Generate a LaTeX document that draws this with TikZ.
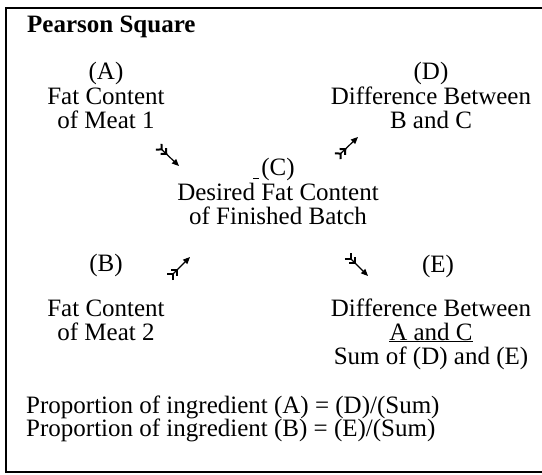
\documentclass[tikz,border=0pt]{standalone}
\usepackage{fontspec}
\setmainfont{Liberation Serif}
\usetikzlibrary{arrows.meta}
\begin{document}
\begin{tikzpicture}[x=1bp,y=-1bp,
  txt/.style={anchor=base,inner sep=0pt,font=\fontsize{25bp}{29bp}\selectfont},
  ltxt/.style={txt,anchor=base west},
  frame/.style={line width=1.8bp},
  fletched/.style={line width=1.2bp,
    {Straight Barb[reversed,length=4bp,width=8bp,line width=2bp]Straight Barb[reversed,length=4bp,width=8bp,line width=2bp]}-{Triangle[length=7bp,width=6bp]}},
  specktick/.style={line width=0.8bp}]
\useasboundingbox (0,0) rectangle (542,475);
\clip (0,0) rectangle (542,475);
\draw[frame] (560,8) -- (6,8) -- (6,472) -- (560,472);
% title
\node[ltxt,font=\fontsize{25bp}{29bp}\selectfont\bfseries] (title) at (27,33) {Pearson Square};
% A
\node[txt] (a1) at (106,80) {(A)};
\node[txt] (a2) at (106,105) {Fat Content};
\node[txt] (a3) at (106,129) {of Meat 1};
% D
\node[txt] (d1) at (431,80) {(D)};
\node[txt] (d2) at (431,105) {Difference Between};
\node[txt] (d3) at (431,129) {B and C};
% C
\node[txt] (c1) at (278,176) {(C)};
\node[txt] (c2) at (278,201) {Desired Fat Content};
\node[txt] (c3) at (278,225) {of Finished Batch};
\coordinate (m1) at (253,178);
\coordinate (m2) at (259,178);
\draw[specktick] (m1) -- (m2);
% B
\node[txt] (b1) at (106,271) {(B)};
\node[txt] (b2) at (106,316) {Fat Content};
\node[txt] (b3) at (106,340) {of Meat 2};
% E
\node[txt] (e1) at (438,272) {(E)};
\node[txt] (e2) at (431,316) {Difference Between};
\node[txt] (e3) at (431,340) {\underline{A and C}};
\node[txt] (e4) at (431,364) {Sum of (D) and (E)};
% proportions
\node[ltxt] (p1) at (26,413) {Proportion of ingredient (A) = (D)/(Sum)};
\node[ltxt] (p2) at (26,436) {Proportion of ingredient (B) = (E)/(Sum)};
% arrows
\coordinate (t1) at (158,146); \coordinate (h1) at (179,166);
\coordinate (t2) at (337,157); \coordinate (h2) at (358,137);
\coordinate (t3) at (169,278); \coordinate (h3) at (190,257);
\coordinate (t4) at (347,255); \coordinate (h4) at (368,276);
\draw[fletched] (t1) -- (h1);
\draw[fletched] (t2) -- (h2);
\draw[fletched] (t3) -- (h3);
\draw[fletched] (t4) -- (h4);
\end{tikzpicture}
\end{document}
